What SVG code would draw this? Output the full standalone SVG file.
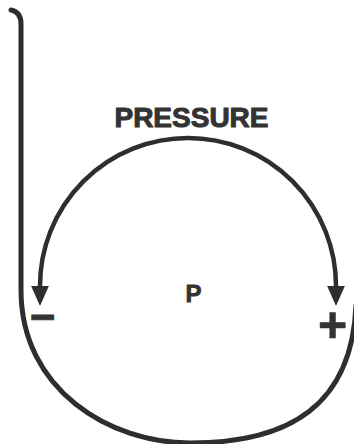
<svg xmlns="http://www.w3.org/2000/svg" width="354" height="444" viewBox="0 0 354 444">
  <style>
    .line { fill: none; stroke: #2e2e2e; stroke-linecap: round; stroke-linejoin: round; }
    .lbl { font-family: "Liberation Sans", Arial, sans-serif; font-weight: bold; fill: #333333; stroke: #333333; text-anchor: middle; }
  </style>
  <defs>
    <marker id="arrow" markerUnits="userSpaceOnUse" markerWidth="20" markerHeight="20" refX="0" refY="8" orient="auto-start-reverse" viewBox="0 0 18 16">
      <path d="M0,0 L18,8 L0,16 Z" fill="#2e2e2e"/>
    </marker>
  </defs>
  <rect width="354" height="444" fill="#ffffff"/>
  <g id="connectors">
    <path id="vessel" class="line" stroke-width="5" d="M 11,10 Q 21,12 21,24 L 21,290 C 21,390 110,443 190,443 C 290,443 352,405 356,305"/>
    <path id="pressure-arc" class="line" stroke-width="4.5" marker-start="url(#arrow)" marker-end="url(#arrow)" d="M 40,286 A 148 148 0 0 1 336,286"/>
  </g>
  <g id="node-pressure">
    <text class="lbl" x="191.5" y="127" font-size="28" stroke-width="1">PRESSURE</text>
  </g>
  <g id="node-p">
    <text class="lbl" x="193.5" y="302" font-size="24" stroke-width="0.8">P</text>
  </g>
  <g id="node-minus">
    <text class="lbl" x="42.5" y="332" font-size="44" stroke-width="0.8">−</text>
  </g>
  <g id="node-plus">
    <text class="lbl" x="332.5" y="342" font-size="50" stroke-width="0.6">+</text>
  </g>
</svg>
